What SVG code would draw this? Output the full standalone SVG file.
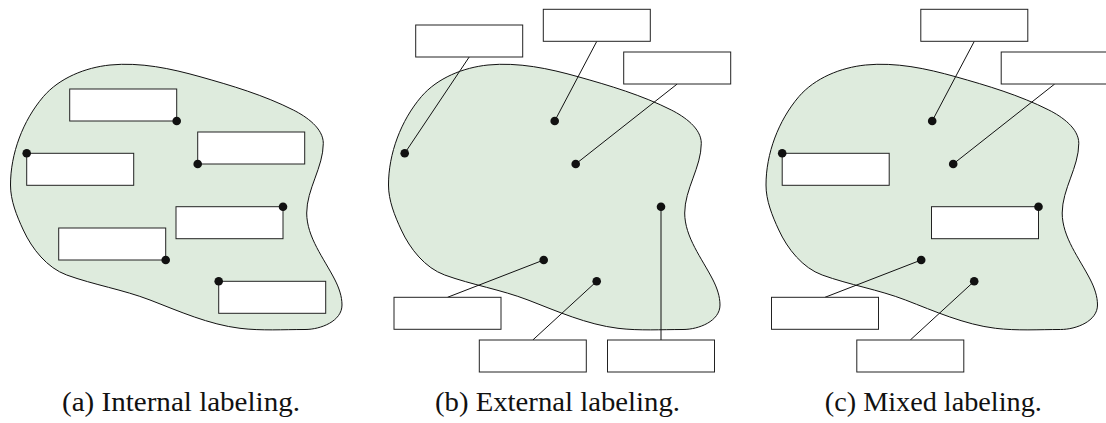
<svg xmlns="http://www.w3.org/2000/svg" width="1106" height="423" viewBox="0 0 1106 423">
  <style>
    .region { fill: #deebdd; stroke: #111; stroke-width: 1; }
    .box { fill: #fff; stroke: #222; stroke-width: 1; }
    .leader { stroke: #111; stroke-width: 1; fill: none; }
    .dot { fill: #111; }
    .caption { font-size: 28px; fill: #111; text-anchor: middle; }
  </style>
  <defs>
    <!-- the shared region outline, in panel-local coordinates -->
    <path id="blob" d="M 10.5,185 C 10.5,153.6 22.9,120.6 43.3,96.7 C 59.3,78 85.4,67.5 110,65 C 140.3,62 170.9,68.5 200,76.7 C 231.7,85.6 264,95.2 293.3,110 C 306.6,116.7 323.3,128.4 323.3,143.3 C 323.3,167.2 306.7,189.1 306.7,213 C 306.7,237.2 324.1,258.5 335,280 C 338.9,287.7 342,296.3 342,305 C 342,321 321,329.5 305,329.5 C 283.3,329.5 261.5,330.9 240,328.3 C 208.9,324.5 179.2,311.3 150,300 C 123,289.6 94,284.9 66.7,275 C 47.1,267.9 32,248.9 23.3,230 C 16.7,215.8 10.5,200.6 10.5,185 Z"/>
    <circle id="pt" r="4.3"/>
  </defs>

  <!-- (a) internal labeling -->
  <g id="panel-a">
    <use href="#blob" class="region"/>
    <g id="a-label-1"><rect class="box" x="69.7" y="89" width="107" height="32"/><use href="#pt" class="dot" x="176.7" y="121"/></g>
    <g id="a-label-2"><rect class="box" x="197.7" y="132" width="107" height="32"/><use href="#pt" class="dot" x="197.7" y="164"/></g>
    <g id="a-label-3"><rect class="box" x="26.7" y="153.3" width="107" height="32"/><use href="#pt" class="dot" x="26.7" y="153.3"/></g>
    <g id="a-label-4"><rect class="box" x="176" y="206.7" width="107" height="32"/><use href="#pt" class="dot" x="283" y="206.7"/></g>
    <g id="a-label-5"><rect class="box" x="58.7" y="228" width="107" height="32"/><use href="#pt" class="dot" x="165.7" y="260"/></g>
    <g id="a-label-6"><rect class="box" x="218.7" y="281.3" width="107" height="32"/><use href="#pt" class="dot" x="218.7" y="281.3"/></g>
  </g>

  <!-- (b) external labeling -->
  <g id="panel-b" transform="translate(378,0)">
    <use href="#blob" class="region"/>
    <g id="b-connectors">
      <line class="leader" x1="91.2" y1="57" x2="26.7" y2="153.3"/>
      <line class="leader" x1="218.8" y1="41.3" x2="176.7" y2="121"/>
      <line class="leader" x1="299.2" y1="84" x2="197.7" y2="164"/>
      <line class="leader" x1="69.5" y1="297.3" x2="165.7" y2="260"/>
      <line class="leader" x1="154.8" y1="340" x2="218.7" y2="281.3"/>
      <line class="leader" x1="283" y1="340" x2="283" y2="206.7"/>
    </g>
    <g id="b-label-1"><rect class="box" x="37.7" y="25" width="107" height="32"/><use href="#pt" class="dot" x="26.7" y="153.3"/></g>
    <g id="b-label-2"><rect class="box" x="165.3" y="9.3" width="107" height="32"/><use href="#pt" class="dot" x="176.7" y="121"/></g>
    <g id="b-label-3"><rect class="box" x="245.7" y="52" width="107" height="32"/><use href="#pt" class="dot" x="197.7" y="164"/></g>
    <g id="b-label-4"><rect class="box" x="16" y="297.3" width="107" height="32"/><use href="#pt" class="dot" x="165.7" y="260"/></g>
    <g id="b-label-5"><rect class="box" x="101.3" y="340" width="107" height="32"/><use href="#pt" class="dot" x="218.7" y="281.3"/></g>
    <g id="b-label-6"><rect class="box" x="229.5" y="340" width="107" height="32"/><use href="#pt" class="dot" x="283" y="206.7"/></g>
  </g>

  <!-- (c) mixed labeling -->
  <g id="panel-c" transform="translate(755.5,0)">
    <use href="#blob" class="region"/>
    <g id="c-connectors">
      <line class="leader" x1="218.8" y1="41.3" x2="176.7" y2="121"/>
      <line class="leader" x1="299.2" y1="84" x2="197.7" y2="164"/>
      <line class="leader" x1="69.5" y1="297.3" x2="165.7" y2="260"/>
      <line class="leader" x1="154.8" y1="340" x2="218.7" y2="281.3"/>
    </g>
    <g id="c-label-1"><rect class="box" x="165.3" y="9.3" width="107" height="32"/><use href="#pt" class="dot" x="176.7" y="121"/></g>
    <g id="c-label-2"><rect class="box" x="245.7" y="52" width="107" height="32"/><use href="#pt" class="dot" x="197.7" y="164"/></g>
    <g id="c-label-3"><rect class="box" x="26.7" y="153.3" width="107" height="32"/><use href="#pt" class="dot" x="26.7" y="153.3"/></g>
    <g id="c-label-4"><rect class="box" x="176" y="206.7" width="107" height="32"/><use href="#pt" class="dot" x="283" y="206.7"/></g>
    <g id="c-label-5"><rect class="box" x="16" y="297.3" width="107" height="32"/><use href="#pt" class="dot" x="165.7" y="260"/></g>
    <g id="c-label-6"><rect class="box" x="101.3" y="340" width="107" height="32"/><use href="#pt" class="dot" x="218.7" y="281.3"/></g>
  </g>

  <!-- captions -->
  <g id="captions" font-family="'Liberation Serif', 'DejaVu Serif', serif">
    <text class="caption" x="181" y="411" textLength="238" lengthAdjust="spacingAndGlyphs">(a) Internal labeling.</text>
    <text class="caption" x="557.5" y="411" textLength="245" lengthAdjust="spacingAndGlyphs">(b) External labeling.</text>
    <text class="caption" x="933.3" y="411" textLength="217" lengthAdjust="spacingAndGlyphs">(c) Mixed labeling.</text>
  </g>
</svg>
